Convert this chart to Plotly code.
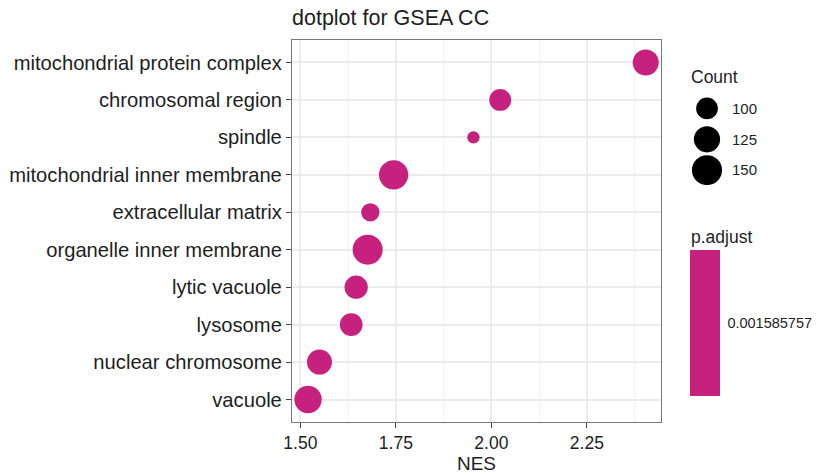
import numpy as np
import plotly.graph_objects as go

terms = ["mitochondrial protein complex", "chromosomal region", "spindle",
         "mitochondrial inner membrane", "extracellular matrix",
         "organelle inner membrane", "lytic vacuole", "lysosome",
         "nuclear chromosome", "vacuole"]
nes = [2.404, 2.023, 1.953, 1.744, 1.683, 1.676, 1.646, 1.633, 1.550, 1.520]
counts = [124, 101, 63, 145, 84, 150, 108, 105, 118, 132]
padj = [0.001585757] * 10
legend_counts = [100, 125, 150]
x_ticks = [1.50, 1.75, 2.00, 2.25]

COLOR = "#C72180"
TXT = "#1E1E1E"
FONT = "Liberation Sans, Arial, sans-serif"


def diam(c):
    c = np.asarray(c, dtype=float)
    return np.sqrt(8.6 * c - 389.0)


W, H = 817, 474
ml, mt, mb = 292, 40, 52
mr = 0
pw = W - ml - mr
ph = H - mt - mb
panel_right = 661


def px_x(p):
    return (p - ml) / pw


def px_y(p):
    return (H - mb - p) / ph


fig = go.Figure()

fig.add_trace(go.Scatter(
    x=nes, y=terms, mode="markers",
    marker=dict(size=diam(counts), sizemode="diameter", color=padj,
                opacity=1,
                colorscale=[[0, COLOR], [1, COLOR]],
                cmin=padj[0] - 1e-6, cmax=padj[0] + 1e-6,
                line=dict(width=0),
                colorbar=dict(
                    x=px_x(690), xanchor="left", xpad=0,
                    y=px_y((250 + 395.7) / 2), yanchor="middle", ypad=0,
                    len=146, lenmode="pixels", thickness=30,
                    thicknessmode="pixels", outlinewidth=0,
                    tickvals=[padj[0]], ticktext=[f"{padj[0]:.9f}"],
                    ticks="outside", ticklen=5, tickcolor="white",
                    tickfont=dict(size=14.5, color=TXT, family=FONT),
                )),
    opacity=1,
    showlegend=False, hoverinfo="x+y",
))

# Size legend drawn on its own small axes
fig.add_trace(go.Scatter(
    x=[0, 0, 0], y=[str(c) for c in legend_counts], mode="markers",
    marker=dict(size=diam(legend_counts), sizemode="diameter", color="black",
                opacity=1, line=dict(width=0)),
    opacity=1,
    xaxis="x2", yaxis="y2", showlegend=False, hoverinfo="skip",
))

fig.update_layout(
    width=W, height=H,
    margin=dict(l=ml, r=mr, t=mt, b=mb, autoexpand=False),
    paper_bgcolor="white", plot_bgcolor="white",
    font=dict(family=FONT, color=TXT),
    title=dict(text="dotplot for GSEA CC", x=0,
               xref="paper", xanchor="left", y=1 - 17 / H, yanchor="middle",
               font=dict(size=21.5, color=TXT, family=FONT)),
    xaxis=dict(
        domain=[0, (panel_right - ml) / pw],
        range=[1.478, 2.444], tickvals=x_ticks,
        ticktext=[f"{v:.2f}" for v in x_ticks],
        ticks="outside", ticklen=5, tickcolor="#444", tickwidth=1.2,
        tickfont=dict(size=17.5, color=TXT),
        showgrid=True, gridcolor="#EBEBEB", gridwidth=2,
        minor=dict(tick0=1.375, dtick=0.25, showgrid=True,
                   gridcolor="#F3F3F3", gridwidth=1),
        showline=True, mirror=True, linecolor="#777", linewidth=1.2,
        zeroline=False,
        title=dict(text="NES", font=dict(size=19, color=TXT), standoff=4),
    ),
    yaxis=dict(
        type="category", categoryorder="array",
        categoryarray=terms[::-1], range=[-0.6, 9.6],
        ticks="outside", ticklen=5, tickcolor="#444", tickwidth=1.2,
        tickfont=dict(size=20.2, color=TXT),
        showgrid=True, gridcolor="#EBEBEB", gridwidth=2,
        showline=True, mirror=True, linecolor="#777", linewidth=1.2,
        zeroline=False,
    ),
    xaxis2=dict(
        domain=[px_x(692), px_x(722)], range=[-1, 1], anchor="y2",
        visible=False, fixedrange=True,
    ),
    yaxis2=dict(
        domain=[px_y(185.6), px_y(93)], anchor="x2", side="right",
        type="category", categoryorder="array",
        categoryarray=[str(c) for c in legend_counts[::-1]],
        range=[-0.5, 2.5], showgrid=False, showline=False, zeroline=False,
        ticks="", ticklabelstandoff=9,
        tickfont=dict(size=15, color=TXT), fixedrange=True,
    ),
    annotations=[
        dict(text="Count", x=px_x(689), y=px_y(77), xref="paper",
             yref="paper", xanchor="left", yanchor="middle", showarrow=False,
             font=dict(size=17.5, color=TXT, family=FONT)),
        dict(text="p.adjust", x=px_x(689), y=px_y(237), xref="paper",
             yref="paper", xanchor="left", yanchor="middle", showarrow=False,
             font=dict(size=17.5, color=TXT, family=FONT)),
    ],
)

fig.write_html("out.html")
